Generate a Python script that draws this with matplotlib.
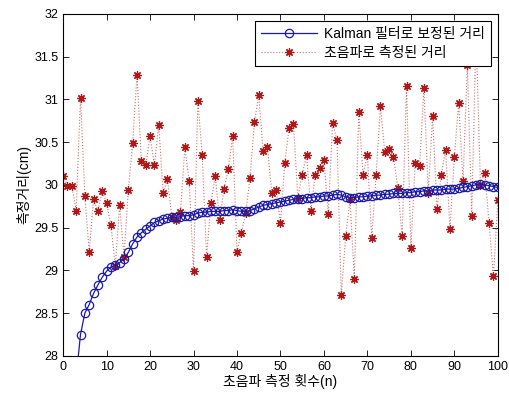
import numpy as np
import matplotlib
matplotlib.use('Agg')
import matplotlib.pyplot as plt

plt.rcParams['font.family'] = ['Liberation Sans', 'Noto Sans CJK KR', 'DejaVu Sans']

# measurement index
n = np.arange(0, 101)

sonic = [30.10, 29.99, 29.99, 29.70, 31.02, 29.87, 29.22, 29.83, 29.69, 29.93,
         29.79, 29.53, 29.05, 29.76, 29.16, 29.94, 30.49, 31.29, 30.28, 30.23,
         30.57, 30.23, 30.70, 29.91, 30.07, 29.63, 29.59, 29.68, 30.44, 30.04,
         28.99, 30.98, 30.35, 29.16, 29.79, 30.10, 29.59, 29.95, 30.18, 30.57,
         29.22, 29.44, 29.67, 30.08, 30.73, 31.05, 30.40, 30.44, 29.91, 29.94,
         29.55, 30.26, 30.67, 30.71, 29.85, 30.12, 30.35, 29.70, 30.12, 30.20,
         30.29, 29.66, 30.72, 30.53, 28.71, 29.40, 29.83, 28.90, 30.85, 30.12,
         30.35, 29.38, 30.11, 30.92, 30.38, 30.42, 30.33, 29.96, 29.40, 31.16,
         29.26, 30.25, 30.22, 31.13, 29.91, 30.80, 29.72, 30.11, 30.41, 29.48,
         30.33, 30.96, 30.04, 31.40, 29.64, 31.80, 30.00, 30.14, 29.55, 28.93,
         29.82]

# Kalman filtered distance (cm)
kalman = [24.00, 26.00, 27.20, 27.75, 28.25, 28.50, 28.60, 28.73, 28.83, 28.92,
          28.99, 29.04, 29.06, 29.09, 29.13, 29.21, 29.31, 29.39, 29.44, 29.48,
          29.52, 29.56, 29.58, 29.60, 29.61, 29.62, 29.62, 29.63, 29.64, 29.64,
          29.65, 29.67, 29.68, 29.68, 29.69, 29.69, 29.69, 29.70, 29.70, 29.71,
          29.70, 29.69, 29.69, 29.70, 29.72, 29.74, 29.76, 29.77, 29.78, 29.79,
          29.80, 29.81, 29.82, 29.83, 29.84, 29.84, 29.85, 29.85, 29.86, 29.86,
          29.87, 29.87, 29.88, 29.89, 29.88, 29.86, 29.85, 29.85, 29.86, 29.86,
          29.87, 29.87, 29.88, 29.88, 29.89, 29.89, 29.90, 29.90, 29.90, 29.91,
          29.91, 29.92, 29.92, 29.93, 29.93, 29.94, 29.94, 29.94, 29.95, 29.95,
          29.95, 29.96, 29.97, 29.98, 29.99, 30.00, 30.01, 30.00, 29.99, 29.98,
          29.97]

yticks = [28, 28.5, 29, 29.5, 30, 30.5, 31, 31.5, 32]
ytick_labels = ['28', '28.5', '29', '29.5', '30', '30.5', '31', '31.5', '32']

fig = plt.figure(figsize=(5.09, 3.95), dpi=100)
ax = fig.add_axes([0.124, 0.099, 0.854, 0.866])

ax.plot(n, kalman, '-', color='#1a1aa8', lw=0.9, marker='o', ms=6,
        mfc='none', mec='#1a1aa8', mew=0.9, label='Kalman 필터로 보정된 거리', zorder=3)
ax.plot(n, sonic, ':', color='#d07070', lw=0.8, marker=(8, 2, 0), ms=6,
        mec='#b01818', mew=0.9, label='초음파로 측정된 거리', zorder=2)

ax.set_xlim(0, 100)
ax.set_ylim(28, 32)
ax.set_xticks(range(0, 101, 10))
ax.set_yticks(yticks)
ax.set_yticklabels(ytick_labels)
ax.tick_params(direction='in', top=True, right=True, labelsize=9, length=4, width=0.6)
for s in ax.spines.values():
    s.set_linewidth(0.8)

ax.set_xlabel('초음파 측정 횟수(n)', fontsize=10, labelpad=1)
ax.set_ylabel('측정거리(cm)', fontsize=10, labelpad=2)

leg = ax.legend(loc='upper right', fontsize=10, fancybox=False, framealpha=1,
                edgecolor='black', borderaxespad=0.5, handlelength=4.0,
                borderpad=0.45, labelspacing=0.35, handletextpad=0.5)
leg.get_frame().set_linewidth(0.8)
leg.set_zorder(5)

fig.savefig('out.png', dpi=100)
